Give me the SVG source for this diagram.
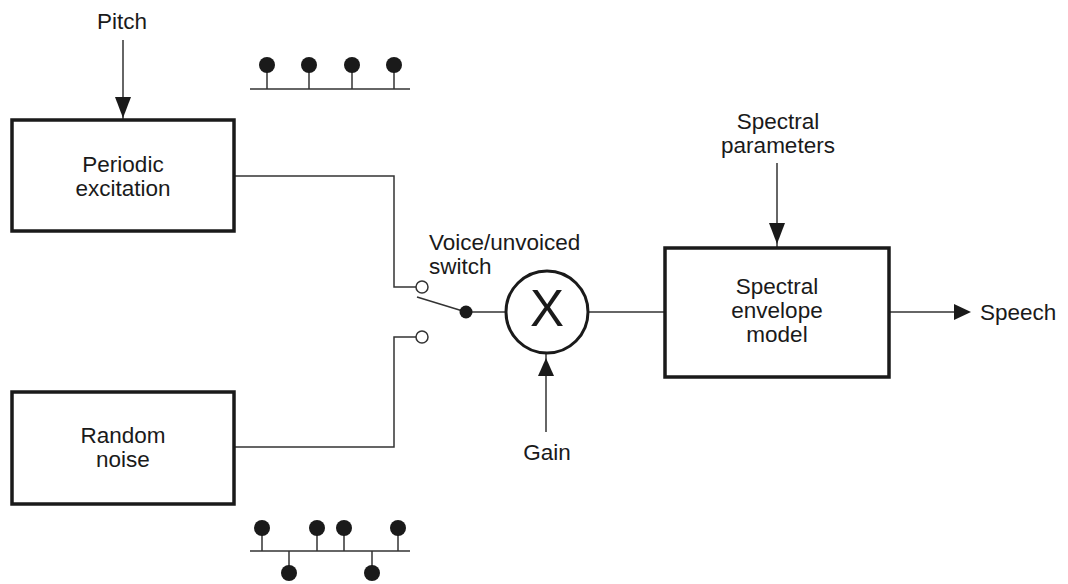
<svg xmlns="http://www.w3.org/2000/svg" width="1068" height="584" viewBox="0 0 1068 584">
<style>
.box{fill:#fff;stroke:#1a1a1a;stroke-width:3.5}
.w{fill:none;stroke:#333;stroke-width:1.5}
.t{font-family:"Liberation Sans",Arial,sans-serif;font-size:22.5px;fill:#1a1a1a}
.c{text-anchor:middle}
.ah{fill:#1a1a1a}
.pd{fill:#1a1a1a}
</style>
<defs>
<polygon id="down" points="-8,-21 8,-21 0,0" class="ah"/>
</defs>
<rect width="1068" height="584" fill="#fff"/>
<g id="connectors">
<line class="w" x1="123" y1="40" x2="123" y2="120"/>
<use href="#down" x="123" y="118"/>
<polyline class="w" points="234,176 394,176 394,287 416,287"/>
<polyline class="w" points="234,447 394,447 394,337 416,337"/>
<line class="w" x1="417" y1="297" x2="466" y2="312"/>
<line class="w" x1="466" y1="312" x2="506" y2="312"/>
<line class="w" x1="588" y1="312" x2="664" y2="312"/>
<line class="w" x1="546" y1="432" x2="546" y2="353"/>
<polygon class="ah" points="538,376 554,376 546,358"/>
<line class="w" x1="777" y1="163" x2="777" y2="247"/>
<use href="#down" x="777" y="244"/>
<line class="w" x1="889" y1="312" x2="960" y2="312"/>
<polygon class="ah" points="954,304 954,320 971,312"/>
</g>
<g id="pitch"><text class="t c" x="122" y="29">Pitch</text></g>
<g id="periodic">
<rect class="box" x="12" y="120" width="222" height="111"/>
<text class="t c" x="123" y="172">Periodic</text>
<text class="t c" x="123" y="196">excitation</text>
</g>
<g id="random">
<rect class="box" x="12" y="392" width="222" height="112"/>
<text class="t c" x="123" y="443">Random</text>
<text class="t c" x="123" y="467">noise</text>
</g>
<g id="switch">
<circle cx="422" cy="287" r="6" fill="#fff" stroke="#333" stroke-width="1.5"/>
<circle cx="422" cy="337" r="6" fill="#fff" stroke="#333" stroke-width="1.5"/>
<circle cx="466" cy="312" r="6.5" fill="#1a1a1a"/>
<text class="t" x="429" y="250">Voice/unvoiced</text>
<text class="t" x="429" y="274">switch</text>
</g>
<g id="multiplier">
<circle cx="547" cy="312" r="41" fill="#fff" stroke="#1a1a1a" stroke-width="3"/>
<text x="547" y="326" text-anchor="middle" font-family="Liberation Sans,Arial,sans-serif" font-size="51" fill="#1a1a1a">X</text>
</g>
<g id="gain"><text class="t c" x="547" y="460">Gain</text></g>
<g id="spectral-params">
<text class="t c" x="778" y="129">Spectral</text>
<text class="t c" x="778" y="153">parameters</text>
</g>
<g id="spectral-model">
<rect class="box" x="665" y="248" width="224" height="129"/>
<text class="t c" x="777" y="294">Spectral</text>
<text class="t c" x="777" y="318">envelope</text>
<text class="t c" x="777" y="342">model</text>
</g>
<g id="speech"><text class="t" x="980" y="320">Speech</text></g>
<g id="pulse-train">
<line class="w" x1="250" y1="89" x2="410" y2="89"/>
<line class="w" x1="267" y1="65" x2="267" y2="89"/>
<line class="w" x1="309" y1="65" x2="309" y2="89"/>
<line class="w" x1="352" y1="65" x2="352" y2="89"/>
<line class="w" x1="394" y1="65" x2="394" y2="89"/>
<circle class="pd" cx="267" cy="65" r="8"/>
<circle class="pd" cx="309" cy="65" r="8"/>
<circle class="pd" cx="352" cy="65" r="8"/>
<circle class="pd" cx="394" cy="65" r="8"/>
</g>
<g id="noise-train">
<line class="w" x1="250" y1="551" x2="410" y2="551"/>
<line class="w" x1="262" y1="528" x2="262" y2="551"/>
<line class="w" x1="317" y1="528" x2="317" y2="551"/>
<line class="w" x1="344" y1="528" x2="344" y2="551"/>
<line class="w" x1="398" y1="528" x2="398" y2="551"/>
<line class="w" x1="289" y1="551" x2="289" y2="573"/>
<line class="w" x1="372" y1="551" x2="372" y2="573"/>
<circle class="pd" cx="262" cy="528" r="8"/>
<circle class="pd" cx="317" cy="528" r="8"/>
<circle class="pd" cx="344" cy="528" r="8"/>
<circle class="pd" cx="398" cy="528" r="8"/>
<circle class="pd" cx="289" cy="573" r="8"/>
<circle class="pd" cx="372" cy="573" r="8"/>
</g>
</svg>
